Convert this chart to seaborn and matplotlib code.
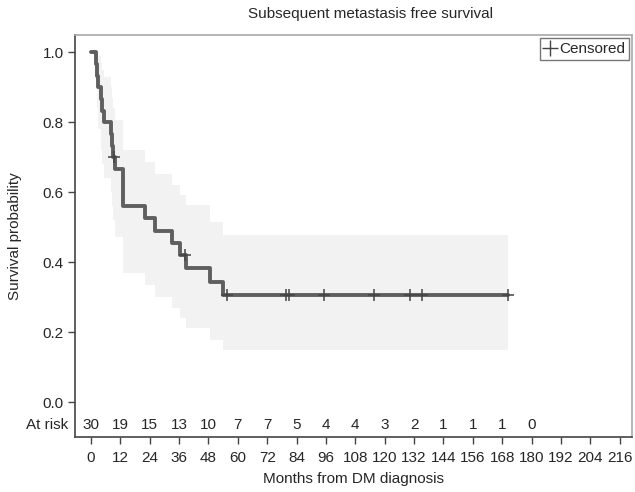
import numpy as np
import pandas as pd
import matplotlib
matplotlib.use("Agg")
import matplotlib.pyplot as plt
from matplotlib.lines import Line2D
import seaborn as sns

# ---- data ----
step_times = [0, 2.2, 2.6, 2.9, 4.0, 4.5, 5.5, 8.0, 8.7, 9.0, 10.0, 13.2,
              22.0, 26.1, 33.2, 36.3, 38.8, 48.6, 54.0, 170.3]
survival = [1.0, 0.967, 0.933, 0.900, 0.867, 0.833, 0.800, 0.767, 0.733, 0.700,
            0.665, 0.560, 0.525, 0.490, 0.455, 0.420, 0.382, 0.344, 0.306, 0.306]
ci_upper = [1.0, 1.0, 1.0, 0.99, 0.97, 0.95, 0.93, 0.90, 0.87, 0.84,
            0.806, 0.72, 0.687, 0.653, 0.62, 0.591, 0.563, 0.515, 0.477, 0.477]
ci_lower = [1.0, 0.90, 0.84, 0.78, 0.72, 0.68, 0.64, 0.60, 0.56, 0.52,
            0.472, 0.369, 0.334, 0.30, 0.268, 0.24, 0.211, 0.177, 0.149, 0.149]
censor_times = [9.3, 38.3, 55.4, 79.5, 80.8, 95.1, 115.8, 130.5, 135.4, 170.3]
censor_surv = [0.700, 0.420, 0.306, 0.306, 0.306, 0.306, 0.306, 0.306, 0.306, 0.306]
risk_times = [0, 12, 24, 36, 48, 60, 72, 84, 96, 108, 120, 132, 144, 156, 168, 180]
at_risk = [30, 19, 15, 13, 10, 7, 7, 5, 4, 4, 3, 2, 1, 1, 1, 0]
x_ticks = list(range(0, 217, 12))
y_ticks = [0.0, 0.2, 0.4, 0.6, 0.8, 1.0]

sns.set_style("ticks")
plt.rcParams["font.family"] = ["Liberation Sans", "DejaVu Sans"]
plt.rcParams["font.size"] = 11

df = pd.DataFrame({"t": step_times, "s": survival})
cens = pd.DataFrame({"t": censor_times, "s": censor_surv})

fig = plt.figure(figsize=(6.35, 4.92), dpi=100)
ax = fig.add_axes([75 / 635, 1 - 437 / 492, (632 - 75) / 635, (437 - 35) / 492])

line_col = "#5f5f5f"
ax.fill_between(step_times, ci_lower, ci_upper, step="post",
                color="#f2f2f2", linewidth=0, zorder=1)
sns.lineplot(data=df, x="t", y="s", drawstyle="steps-post", color=line_col,
             linewidth=2.8, estimator=None, sort=False, ax=ax, zorder=3)
sns.scatterplot(data=cens, x="t", y="s", marker="+", s=80, color="#444444",
                linewidth=1.1, ax=ax, zorder=4)

ax.set_xlim(-6.5, 221)
ax.set_ylim(-0.1, 1.049)
ax.set_xticks(x_ticks)
ax.set_yticks(y_ticks)
ax.set_yticklabels([f"{v:.1f}" for v in y_ticks])
ax.tick_params(axis="both", direction="out", length=5, width=1,
               color="#444444", labelsize=11, pad=3)
ax.tick_params(axis="x", pad=5)

for sp in ["left", "bottom"]:
    ax.spines[sp].set_color("#444444")
    ax.spines[sp].set_linewidth(1.2)
for sp in ["top", "right"]:
    ax.spines[sp].set_color("#a8a8a8")
    ax.spines[sp].set_linewidth(1.2)

for t, n in zip(risk_times, at_risk):
    ax.text(t, -0.066, str(n), ha="center", va="center", fontsize=11)
ax.text(-0.012, -0.066, "At risk", ha="right", va="center", fontsize=11,
        transform=ax.get_yaxis_transform())

ax.set_xlabel("Months from DM diagnosis", fontsize=11, labelpad=5)
ax.set_ylabel("Survival probability", fontsize=11, labelpad=15)
fig.text(371 / 635, 1 - 14 / 492, "Subsequent metastasis free survival",
         ha="center", va="center", fontsize=11)

handle = Line2D([], [], marker="+", linestyle="none", color="#444444",
                markersize=11, markeredgewidth=1.0)
leg = ax.legend([handle], ["Censored"], loc="upper right", fancybox=False,
                frameon=True, handlelength=0.8, handletextpad=0.2,
                borderpad=0.25, borderaxespad=0.2, fontsize=11)
leg.get_frame().set_edgecolor("#555555")
leg.get_frame().set_linewidth(1.0)

fig.savefig("out.png", dpi=100, facecolor="white")
